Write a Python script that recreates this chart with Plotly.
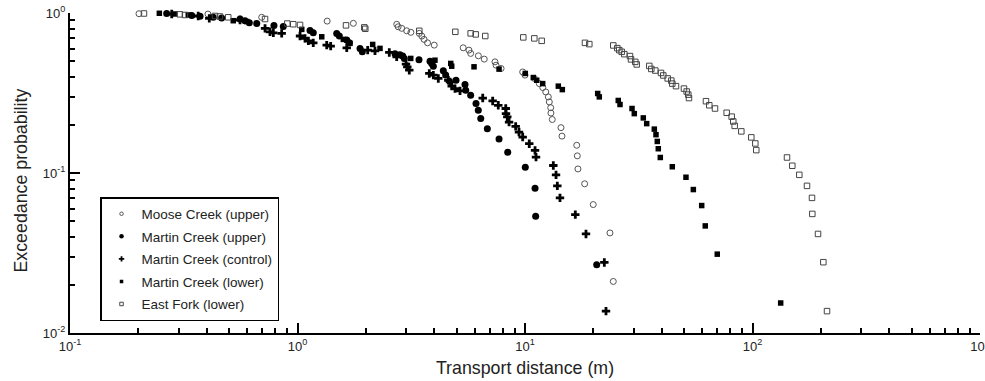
import plotly.graph_objects as go

# ---------------- data (transport distance in m, exceedance probability) ----------------
moose_x = [0.201, 0.404, 0.696, 1.35, 1.76, 2.73, 2.77, 2.87, 3.02, 3.15, 3.43, 3.52, 3.60, 3.73, 3.99,
           5.35, 5.67, 5.77, 6.24, 6.62, 7.38, 7.46, 7.85, 9.77, 10.0, 10.99, 11.56, 11.97, 12.34, 12.66,
           12.79, 12.97, 13.0, 13.18, 14.39, 14.54, 16.88, 16.98, 17.09, 18.29, 19.95, 23.63, 24.44]
moose_p = [0.99, 0.985, 0.94, 0.89, 0.862, 0.85, 0.82, 0.802, 0.774, 0.757, 0.746, 0.717, 0.684, 0.651, 0.630,
           0.606, 0.586, 0.559, 0.540, 0.515, 0.495, 0.472, 0.450, 0.428, 0.409, 0.390, 0.362, 0.342, 0.321, 0.299,
           0.278, 0.256, 0.237, 0.216, 0.192, 0.170, 0.149, 0.128, 0.106, 0.0856, 0.0635, 0.0422, 0.0210]

mu_x = [0.266, 0.343, 0.373, 0.426, 0.464, 0.559, 0.588, 0.614, 0.662, 0.788, 0.866, 1.135, 1.173, 1.487,
        1.527, 1.646, 1.689, 1.883, 1.927, 2.683, 2.82, 2.90, 2.948, 3.42, 3.823, 3.89, 3.954, 4.375, 4.48,
        4.974, 5.449, 5.487, 5.77, 6.09, 6.232, 6.39, 6.83, 7.69, 8.395, 10.03, 11.07, 11.14, 20.66]
mu_p = [0.993, 0.965, 0.953, 0.940, 0.930, 0.917, 0.895, 0.869, 0.859, 0.835, 0.823, 0.777, 0.752, 0.744,
        0.718, 0.677, 0.651, 0.601, 0.572, 0.557, 0.549, 0.538, 0.520, 0.511, 0.500, 0.484, 0.465, 0.435, 0.409,
        0.380, 0.357, 0.329, 0.306, 0.272, 0.2465, 0.2187, 0.1893, 0.1629, 0.135, 0.1088, 0.0803, 0.0536, 0.0267]

ctl_x = [0.280, 0.366, 0.4095, 0.559, 0.720, 0.757, 0.783, 0.852, 1.026, 1.079, 1.116, 1.173, 1.344, 1.399,
         1.646, 2.035, 2.191, 2.532, 2.729, 2.999, 3.038, 3.100, 3.796, 3.954, 4.158, 4.601, 4.680, 4.763,
         4.924, 5.18, 6.52, 7.21, 7.63, 8.23, 8.25, 8.36, 8.51, 9.10, 9.41, 9.77, 10.44, 11.07, 11.18, 13.32,
         13.69, 13.87, 14.25, 16.64, 18.54, 22.32, 22.70]
ctl_p = [0.986, 0.958, 0.926, 0.904, 0.802, 0.763, 0.752, 0.746, 0.718, 0.694, 0.670, 0.651, 0.630, 0.621,
         0.606, 0.586, 0.580, 0.567, 0.532, 0.479, 0.461, 0.439, 0.419, 0.409, 0.390, 0.380, 0.371, 0.349,
         0.337, 0.326, 0.294, 0.282, 0.265, 0.253, 0.235, 0.224, 0.208, 0.1956, 0.1803, 0.1677, 0.1525, 0.1384,
         0.1257, 0.1114, 0.0974, 0.0831, 0.0699, 0.0549, 0.0416, 0.0276, 0.0137]

ml_x = [0.247, 0.289, 0.331, 0.522, 0.598, 1.044, 1.278, 1.590, 1.701, 2.140, 2.305, 3.146, 4.02, 4.715,
        4.763, 5.97, 7.69, 10.03, 10.88, 11.26, 11.96, 14.01, 14.59, 20.87, 21.21, 25.70, 26.16, 29.54,
        30.23, 33.11, 34.27, 37.02, 37.65, 38.15, 38.54, 39.33, 44.41, 51.0, 54.95, 59.8, 62.0, 70.0, 133.0]
ml_p = [0.996, 0.986, 0.972, 0.895, 0.885, 0.790, 0.710, 0.684, 0.646, 0.636, 0.601, 0.520, 0.507, 0.484,
        0.465, 0.461, 0.446, 0.419, 0.395, 0.380, 0.362, 0.349, 0.332, 0.314, 0.299, 0.284, 0.268, 0.253,
        0.235, 0.221, 0.2035, 0.188, 0.1736, 0.1575, 0.1418, 0.125, 0.1094, 0.0941, 0.0788, 0.0626, 0.0467,
        0.0311, 0.0154]

ef_x = [0.2114, 0.304, 0.320, 0.434, 0.456, 0.496, 0.720, 0.902, 0.958, 1.026, 1.634, 1.966, 1.986, 3.43,
        4.94, 5.77, 6.07, 6.69, 9.83, 10.99, 11.84, 18.35, 19.17, 24.44, 25.45, 25.97, 26.61, 27.32, 28.94,
        29.24, 30.53, 30.97, 35.19, 35.91, 37.39, 39.61, 40.54, 42.39, 43.96, 44.41, 46.10, 49.97, 51.36,
        52.2, 52.58, 62.45, 64.57, 68.42, 77.0, 81.0, 82.3, 83.5, 89.3, 98.8, 102.9, 103.9, 141.8, 149.6,
        160.6, 173.6, 182.6, 183.2, 194.1, 204.8, 212.6]
ef_p = [0.993, 0.981, 0.972, 0.958, 0.951, 0.940, 0.917, 0.859, 0.851, 0.842, 0.837, 0.813, 0.797, 0.774,
        0.763, 0.746, 0.735, 0.718, 0.704, 0.694, 0.670, 0.651, 0.639, 0.627, 0.603, 0.586, 0.572, 0.553,
        0.538, 0.513, 0.495, 0.477, 0.467, 0.447, 0.437, 0.422, 0.407, 0.390, 0.378, 0.362, 0.349, 0.337,
        0.323, 0.309, 0.294, 0.281, 0.265, 0.253, 0.238, 0.225, 0.210, 0.197, 0.182, 0.167, 0.153, 0.139,
        0.125, 0.111, 0.0974, 0.0831, 0.0699, 0.0555, 0.0416, 0.0277, 0.0137]

x_tickvals = [0.1, 1, 10, 100, 1000]
x_ticktext = ["10<sup>-1</sup>", "10<sup>0</sup>", "10<sup>1</sup>", "10<sup>2</sup>", "10<sup>3</sup>"]
y_tickvals = [0.01, 0.1, 1]
y_ticktext = ["10<sup>-2</sup>", "10<sup>-1</sup>", "10<sup>0</sup>"]

x_title = "Transport distance (m)"
y_title = "Exceedance probability"

FONT = "Liberation Sans, Arial, sans-serif"

fig = go.Figure()

series = [
    ("Moose Creek (upper)", moose_x, moose_p,
     dict(symbol="circle-open", size=6, color="#555555", line=dict(width=1, color="#555555"))),
    ("Martin Creek (upper)", mu_x, mu_p,
     dict(symbol="circle", size=7, color="black")),
    ("Martin Creek (control)", ctl_x, ctl_p,
     dict(symbol="cross", size=7, color="black", line=dict(width=0))),
    ("Martin Creek (lower)", ml_x, ml_p,
     dict(symbol="square", size=5.5, color="black")),
    ("East Fork (lower)", ef_x, ef_p,
     dict(symbol="square-open", size=5.5, color="#444444", line=dict(width=1, color="#444444"))),
]

for i, (name, xs, ps, mk) in enumerate(series):
    fig.add_trace(go.Scatter(x=xs, y=ps, mode="markers", name=name, marker=mk,
                             legendgroup=f"g{i}", showlegend=False, cliponaxis=False))

# legend entries with the smaller legend symbols of the reference
for i, (name, xs, ps, mk) in enumerate(series):
    small = dict(mk)
    small["size"] = max(3.5, mk["size"] - 2.5)
    fig.add_trace(go.Scatter(x=[None], y=[None], mode="markers", name=name, marker=small,
                             legendgroup=f"g{i}", showlegend=True))

axis_common = dict(
    type="log",
    showgrid=False,
    zeroline=False,
    showline=True,
    linecolor="black",
    linewidth=2,
    mirror=False,
    ticks="inside",
    ticklen=10,
    tickwidth=2,
    tickcolor="black",
    tickmode="array",
    tickfont=dict(family=FONT, size=13, color="#222222"),
    minor=dict(ticks="inside", ticklen=5, tickwidth=1.5, tickcolor="black", dtick="D1", showgrid=False),
    automargin=False,
)

fig.update_xaxes(range=[-1, 3], tickvals=x_tickvals, ticktext=x_ticktext,
                 ticklabeloverflow="allow",
                 title=dict(text=x_title, font=dict(family=FONT, size=17.8, color="#222222"),
                            standoff=9),
                 **axis_common)
fig.update_yaxes(range=[-2, 0], tickvals=y_tickvals, ticktext=y_ticktext, **axis_common)

fig.add_annotation(text=y_title, textangle=-90, xref="paper", yref="paper",
                   x=-0.0533, y=0.478, xanchor="center", yanchor="middle", showarrow=False,
                   font=dict(family=FONT, size=17.8, color="#222222"))

fig.update_layout(
    width=985, height=381,
    margin=dict(l=70, r=5, t=13, b=48, autoexpand=False),
    paper_bgcolor="white",
    plot_bgcolor="white",
    font=dict(family=FONT, color="#222222"),
    showlegend=True,
    legend=dict(
        x=0.033, y=0.425, xanchor="left", yanchor="top",
        bgcolor="white", bordercolor="black", borderwidth=1.5,
        font=dict(family=FONT, size=13.5, color="#222222"),
        tracegroupgap=2, itemwidth=30,
    ),
)

fig.write_html("out.html")
